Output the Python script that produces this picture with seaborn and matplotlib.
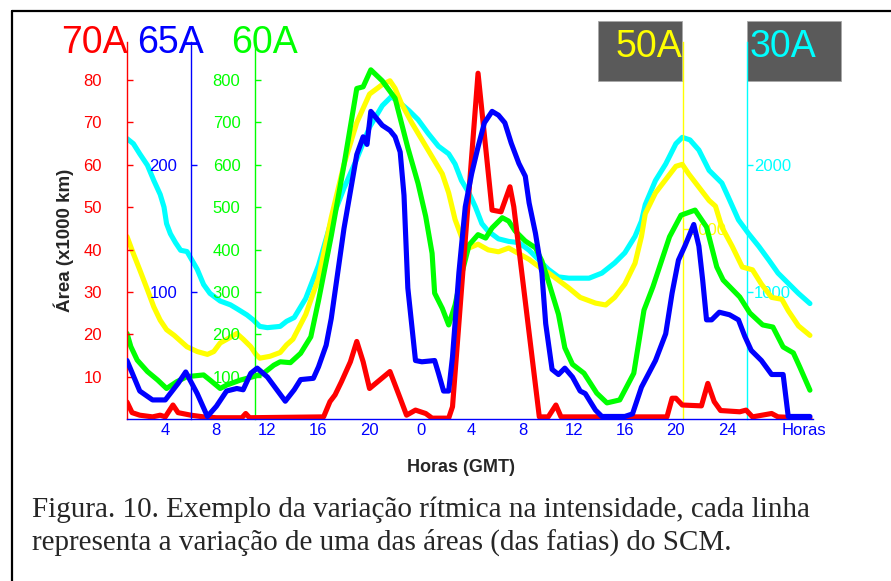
import matplotlib
matplotlib.use("Agg")
import matplotlib.pyplot as plt
import seaborn as sns
from matplotlib.lines import Line2D
from matplotlib.patches import Rectangle

sns.set_style("white")
plt.rcParams['font.family'] = ['Liberation Sans', 'DejaVu Sans']

# ---------------- data (hours since start of record) ----------------
red_hours = [1.0, 1.4, 2.0, 3.0, 3.6, 4.0, 4.6, 5.0, 6.0, 7.0, 8.0, 10.0, 10.3, 10.6,
             16.4, 16.9, 17.3, 17.8, 18.5, 19.0, 19.5, 20.0, 20.8, 21.6, 22.4, 22.9,
             23.6, 24.4, 24.9, 26.2, 26.5, 28.5, 29.6, 30.3, 31.0, 31.3, 33.3, 34.0,
             34.6, 35.0, 43.3, 43.7, 44.0, 44.5, 46.0, 46.5, 47.0, 47.5, 49.0, 49.5,
             50.0, 51.5, 52.0, 54.5]
red_70A = [4.0, 1.5, 0.9, 0.5, 0.9, 0.5, 3.3, 1.5, 0.9, 0.5, 0.3, 0.3, 1.3, 0.3,
           0.5, 4.1, 5.7, 8.8, 13.5, 18.3, 13.5, 7.2, 9.2, 11.2, 4.9, 0.9,
           2.1, 1.3, 0.2, 0.2, 2.9, 81.6, 49.3, 48.9, 54.8, 50.1, 0.5, 0.5,
           3.3, 0.5, 0.5, 4.9, 4.9, 3.3, 3.1, 8.4, 4.1, 2.0, 1.7, 2.1,
           0.5, 1.3, 0.5, 0.2]

blue_hours = [1.0, 2.0, 3.0, 4.0, 5.0, 5.6, 6.5, 7.3, 8.0, 8.8, 9.6, 10.1, 10.7, 11.2,
              12.0, 13.4, 14.1, 14.6, 15.6, 16.0, 16.6, 17.0, 18.0, 19.0, 19.5, 19.8,
              20.1, 21.0, 21.6, 22.0, 22.4, 22.7, 23.0, 23.6, 24.1, 25.1, 25.4, 25.8,
              26.2, 26.5, 27.0, 27.5, 28.0, 28.5, 29.0, 29.6, 30.1, 30.6, 31.1, 31.7,
              32.2, 32.5, 33.0, 33.5, 33.8, 34.3, 34.8, 35.3, 35.9, 36.5, 36.9, 37.7,
              38.2, 40.0, 40.6, 41.3, 42.4, 43.2, 43.7, 44.2, 44.7, 45.4, 45.8, 46.1,
              46.4, 46.8, 47.4, 48.2, 48.9, 49.4, 49.9, 50.7, 51.5, 52.4, 52.8, 54.5]
blue_65A = [46, 22, 15, 15, 28, 37, 20, 2, 10, 22, 24, 23, 36, 40,
            33, 14, 23, 31, 32, 41, 58, 79, 150, 208, 222, 216,
            242, 231, 227, 222, 210, 176, 103, 46, 45, 46, 36, 22,
            22, 49, 115, 167, 193, 214, 233, 242, 239, 233, 217, 201,
            191, 170, 146, 115, 75, 39, 35, 40, 33, 22, 20, 7,
            2, 2, 4, 25, 46, 67, 99, 125, 136, 153, 136, 109,
            78, 78, 84, 82, 78, 65, 54, 46, 35, 35, 2, 2]

green_hours = [1.0, 1.3, 1.8, 2.6, 3.4, 4.1, 4.9, 5.7, 7.0, 7.5, 8.3, 8.8, 9.9, 10.9,
               11.7, 12.5, 13.0, 13.8, 14.6, 15.4, 16.0, 17.0, 18.0, 19.0, 19.5, 20.1,
               21.0, 22.0, 23.0, 23.8, 24.4, 24.9, 25.1, 25.7, 26.2, 26.7, 27.2, 27.8,
               28.5, 29.1, 29.6, 30.4, 30.9, 31.4, 32.2, 33.0, 33.5, 34.0, 34.8, 35.3,
               35.9, 36.8, 37.8, 38.6, 39.6, 40.7, 41.5, 42.2, 43.5, 44.4, 45.5, 46.4,
               47.2, 47.7, 49.0, 49.8, 50.8, 51.6, 52.4, 53.2, 53.7, 54.5]
green_60A = [202, 171, 139, 112, 92, 72, 88, 100, 104, 92, 72, 80, 92, 100,
             108, 127, 135, 133, 155, 194, 279, 432, 600, 780, 784, 824,
             798, 757, 640, 556, 478, 391, 297, 261, 222, 269, 340, 411,
             435, 427, 451, 475, 467, 444, 420, 404, 373, 326, 247, 168,
             129, 108, 61, 38, 45, 108, 257, 312, 430, 481, 493, 453,
             359, 328, 288, 250, 222, 217, 170, 156, 123, 68]

yellow_hours = [1.0, 1.5, 2.0, 2.6, 3.1, 3.6, 4.1, 4.7, 5.2, 5.7, 6.5, 7.3, 7.8, 8.3,
                9.1, 9.6, 10.1, 10.7, 11.1, 11.4, 12.2, 13.0, 13.5, 14.0, 15.0, 16.0,
                17.0, 18.0, 19.0, 20.0, 21.0, 21.6, 22.0, 22.5, 23.3, 24.1, 24.9, 25.7,
                26.2, 26.7, 27.2, 27.8, 28.5, 29.3, 30.1, 30.9, 31.7, 32.5, 33.3, 34.0,
                34.8, 35.6, 36.5, 37.7, 38.5, 39.2, 40.0, 40.8, 41.3, 41.6, 42.4, 43.2,
                44.0, 44.5, 45.0, 45.8, 46.6, 47.1, 47.6, 48.4, 49.2, 50.0, 50.7, 51.5,
                52.3, 52.8, 53.6, 54.5]
yellow_50A = [960, 870, 785, 680, 590, 520, 470, 440, 410, 380, 355, 340, 355, 400,
              430, 450, 420, 380, 340, 320, 330, 350, 390, 420, 550, 740,
              1060, 1340, 1560, 1710, 1760, 1780, 1740, 1660, 1560, 1470, 1380, 1290,
              1190, 1050, 960, 900, 920, 890, 880, 900, 870, 840, 800, 770,
              730, 690, 640, 610, 600, 640, 710, 820, 960, 1080, 1190, 1260,
              1330, 1340, 1290, 1220, 1150, 1120, 1010, 910, 800, 785, 710, 640,
              630, 570, 490, 440]

cyan_hours = [1.0, 1.5, 2.0, 2.6, 3.1, 3.6, 3.9, 4.1, 4.4, 4.8, 5.2, 5.7, 6.1, 6.5,
              7.0, 7.5, 8.3, 9.1, 9.6, 10.4, 10.9, 11.4, 12.0, 13.0, 13.5, 14.1,
              15.0, 16.0, 17.0, 18.0, 19.0, 20.0, 21.0, 21.7, 22.3, 23.1, 23.8, 24.6,
              25.4, 26.2, 26.7, 27.2, 27.8, 28.3, 28.8, 29.3, 30.1, 30.9, 31.7, 32.5,
              33.3, 34.0, 34.8, 35.6, 37.2, 38.2, 39.2, 40.0, 40.8, 41.3, 41.6, 42.4,
              43.2, 44.0, 44.5, 45.1, 45.8, 46.6, 47.6, 48.1, 48.9, 49.7, 50.5, 51.3,
              52.0, 52.8, 53.6, 54.5]
cyan_30A = [2210, 2170, 2090, 2000, 1880, 1770, 1670, 1540, 1460, 1390, 1330, 1320, 1250, 1180,
            1060, 990, 930, 900, 870, 820, 780, 730, 720, 730, 770, 800,
            950, 1210, 1560, 1820, 2050, 2300, 2470, 2540, 2500, 2430, 2360, 2250,
            2150, 2090, 2010, 1880, 1780, 1670, 1540, 1480, 1420, 1400, 1390, 1330,
            1250, 1180, 1120, 1110, 1110, 1150, 1230, 1310, 1440, 1560, 1690, 1880,
            2010, 2170, 2220, 2200, 2120, 1960, 1860, 1750, 1570, 1460, 1360, 1250,
            1150, 1070, 990, 910]

hour_ticks = [4, 8, 12, 16, 20, 24, 28, 32, 36, 40, 44, 48, 54]
hour_labels = ['4', '8', '12', '16', '20', '0', '4', '8', '12', '16', '20', '24', 'Horas']

red_ticks = [10, 20, 30, 40, 50, 60, 70, 80]
blue_ticks = [100, 200]
green_ticks = [100, 200, 300, 400, 500, 600, 700, 800]
yellow_ticks = [1000]
cyan_ticks = [1000, 2000]

# ---------------- colours ----------------
RED, BLUE, GREEN, YELLOW, CYAN = '#ff0000', '#0000ff', '#00ff00', '#ffff00', '#00ffff'

# ---------------- figure ----------------
W, H = 891, 581
fig = plt.figure(figsize=(W / 100, H / 100), dpi=100)
fig.patch.set_facecolor('white')
L, R, B, T = 127, 813, 419, 42
rect = [L / W, 1 - B / H, (R - L) / W, (B - T) / H]
ax = fig.add_axes(rect)
ax.patch.set_visible(False)
XMAX = 54.74
TOP_RED = 88.97

LW = 3.7


def side_axis(color, frac, top, ticks, side, direction, pad, z):
    a = ax.twinx()
    a.set_ylim(0, top)
    for s in a.spines.values():
        s.set_visible(False)
    sp = a.spines[side]
    sp.set_visible(True)
    sp.set_position(('axes', frac))
    sp.set_color(color)
    sp.set_linewidth(1.0)
    if side == 'left':
        a.yaxis.tick_left()
    else:
        a.yaxis.tick_right()
    a.set_yticks(ticks)
    a.set_yticklabels([str(t) for t in ticks])
    a.tick_params(axis='y', colors=color, direction=direction, length=4.5,
                  width=1, pad=pad, labelsize=12)
    a.set_zorder(z)
    a.patch.set_visible(False)
    return a


ax_cyan = side_axis(CYAN, (747 - L) / (R - L), TOP_RED * 33.4, cyan_ticks, 'right', 'out', 0.5, 1)
ax_yel = side_axis(YELLOW, (683 - L) / (R - L), TOP_RED * 22.3, yellow_ticks, 'right', 'out', 0.5, 2)
ax_green = side_axis(GREEN, (255 - L) / (R - L), TOP_RED * 10, green_ticks, 'left', 'in', 10.5, 3)
ax_blue = side_axis(BLUE, (191 - L) / (R - L), TOP_RED * 10 / 3, blue_ticks, 'left', 'in', 10, 5)
ax.set_zorder(4)

sns.lineplot(x=cyan_hours, y=cyan_30A, ax=ax_cyan, color=CYAN, linewidth=LW)
sns.lineplot(x=yellow_hours, y=yellow_50A, ax=ax_yel, color=YELLOW, linewidth=LW)
sns.lineplot(x=green_hours, y=green_60A, ax=ax_green, color=GREEN, linewidth=LW)
sns.lineplot(x=red_hours, y=red_70A, ax=ax, color=RED, linewidth=LW)
sns.lineplot(x=blue_hours, y=blue_65A, ax=ax_blue, color=BLUE, linewidth=LW)

ax_cyan.set_ylim(0, TOP_RED * 33.4)
ax_yel.set_ylim(0, TOP_RED * 22.3)
ax_green.set_ylim(0, TOP_RED * 10)
ax_blue.set_ylim(0, TOP_RED * 10 / 3)
for a in (ax_cyan, ax_yel, ax_green, ax_blue):
    a.set_ylabel('')

# main (red) axis + time axis
ax.set_xlim(1, XMAX)
ax.set_ylim(0, TOP_RED)
ax.spines['top'].set_visible(False)
ax.spines['right'].set_visible(False)
ax.spines['left'].set_color(RED)
ax.spines['left'].set_linewidth(1.0)
ax.spines['bottom'].set_color(BLUE)
ax.spines['bottom'].set_linewidth(1.0)
ax.set_yticks(red_ticks)
ax.set_yticklabels([str(t) for t in red_ticks])
ax.tick_params(axis='y', colors=RED, direction='in', length=4.5, width=1, pad=18, labelsize=12)
ax.set_xticks(hour_ticks)
ax.set_xticklabels(hour_labels)
ax.set_xticks(list(range(1, 55)), minor=True)
ax.tick_params(axis='x', which='both', colors=BLUE, direction='in', length=4, width=1,
               pad=3, labelsize=12)
ax.set_xlabel('')
ax.set_ylabel('')

# series labels
big = 27
fig.text(61 / W, 1 - 53 / H, '70A', color=RED, fontsize=big, ha='left', va='baseline')
fig.text(137 / W, 1 - 53 / H, '65A', color=BLUE, fontsize=big, ha='left', va='baseline')
fig.text(231 / W, 1 - 53 / H, '60A', color=GREEN, fontsize=big, ha='left', va='baseline')
for x0, x1 in ((598, 682), (747, 841)):
    fig.add_artist(Rectangle((x0 / W, 1 - 81 / H), (x1 - x0) / W, 60 / H,
                             transform=fig.transFigure, facecolor='#5a5a5a',
                             edgecolor='#a8a8a8', linewidth=0.6, zorder=0.5))
fig.text(682 / W, 1 - 57 / H, '50A', color=YELLOW, fontsize=big, ha='right', va='baseline')
fig.text(750 / W, 1 - 57 / H, '30A', color=CYAN, fontsize=big, ha='left', va='baseline')

# axis titles
fig.text(64 / W, 1 - 240 / H, 'Área (x1000 km)', rotation=90, fontsize=13.5,
         fontweight='bold', ha='center', va='center')
fig.text(461 / W, 1 - 467 / H, 'Horas (GMT)', fontsize=13, fontweight='bold',
         ha='center', va='center')

# caption
fig.text(32 / W, 1 - 517 / H,
         'Figura. 10. Exemplo da variação rítmica na intensidade, cada linha',
         family=['Liberation Serif', 'DejaVu Serif'], fontsize=21, ha='left', va='baseline')
fig.text(32 / W, 1 - 550 / H,
         'representa a variação de uma das áreas (das fatias) do SCM.',
         family=['Liberation Serif', 'DejaVu Serif'], fontsize=21, ha='left', va='baseline')

# page frame
fig.add_artist(Line2D([12 / W, 1.0], [1 - 11 / H, 1 - 11 / H], color='black', linewidth=1.6,
                      transform=fig.transFigure))
fig.add_artist(Line2D([12 / W, 12 / W], [0.0, 1 - 11 / H], color='black', linewidth=1.6,
                      transform=fig.transFigure))

fig.savefig('out.png', dpi=100)
